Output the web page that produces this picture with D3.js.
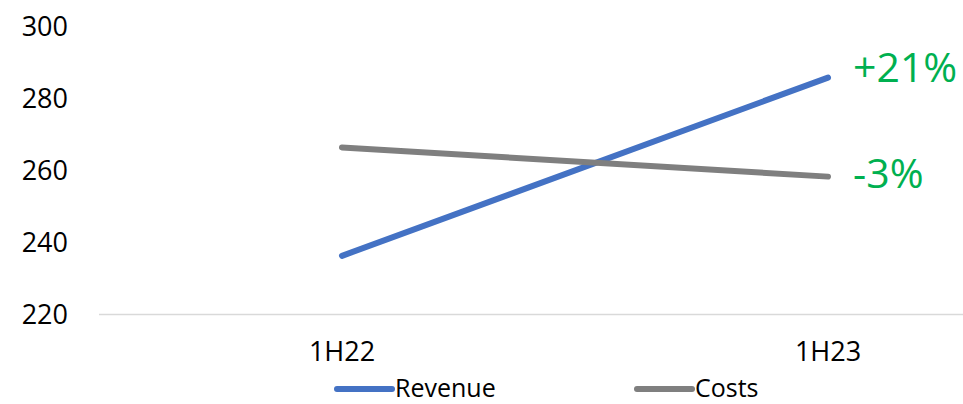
<!DOCTYPE html>
<html>
<head>
<meta charset="utf-8">
<script src="https://cdn.jsdelivr.net/npm/d3@7"></script>
<style>
  body { margin: 0; background: #fff; }
  svg { display: block; font-family: "Open Sans", "Noto Sans", sans-serif; }
</style>
</head>
<body>
<svg width="963" height="404"></svg>
<script>
// data
var periods = ["1H22", "1H23"];
var revenue = [236.3, 285.8];
var costs = [266.4, 258.3];
var yTicks = [220, 240, 260, 280, 300];
var changeLabels = ["+21%", "-3%"];
var seriesNames = ["Revenue", "Costs"];

function main(){
    var svg = d3.select("svg"),
        width = +svg.attr("width");

    // plot area runs past the right edge, as in the reference crop
    var xScale = d3.scaleBand().domain(periods).range([99, 1071]).padding(0),
        yScale = d3.scaleLinear().domain([220, 300]).range([314.5, 26.5]);

    var colors = ["#4472C4", "#7F7F7F"];
    var series = [revenue, costs];

    // y axis labels
    var gy = svg.append("g").attr("transform", "translate(99,0)")
        .call(d3.axisLeft(yScale).tickValues(yTicks).tickSize(0).tickPadding(31));
    gy.select(".domain").remove();
    gy.selectAll("text").attr("font-size", 27).attr("fill", "#000").attr("font-family", "Open Sans");

    // x axis
    var gx = svg.append("g").attr("transform", "translate(0,314.5)")
        .call(d3.axisBottom(xScale).tickSize(0).tickPadding(27));
    gx.select(".domain").remove();
    gx.selectAll("text").attr("font-size", 27).attr("fill", "#000").attr("font-family", "Open Sans");
    svg.append("line")
        .attr("x1", 99).attr("x2", width)
        .attr("y1", 314.5).attr("y2", 314.5)
        .attr("stroke", "#D9D9D9").attr("stroke-width", 1.5);

    var line = d3.line()
        .x(function(d, i){ return xScale(periods[i]) + xScale.bandwidth() / 2; })
        .y(function(d){ return yScale(d); });

    series.forEach(function(s, k){
        svg.append("path").datum(s)
            .attr("d", line)
            .attr("fill", "none")
            .attr("stroke", colors[k])
            .attr("stroke-width", 6)
            .attr("stroke-linecap", "round");
    });

    // change annotations next to the last point
    var lastX = xScale(periods[1]) + xScale.bandwidth() / 2;
    var offsets = [4, 11];
    series.forEach(function(s, k){
        svg.append("text")
            .attr("x", lastX + 25)
            .attr("y", yScale(s[1]) + offsets[k])
            .attr("font-size", 41)
            .attr("fill", "#00B050")
            .attr("font-family", "Open Sans")
            .text(changeLabels[k]);
    });

    // legend
    var legendX = [337, 637];
    seriesNames.forEach(function(name, k){
        var g = svg.append("g").attr("transform", "translate(" + legendX[k] + ",389)");
        g.append("line").attr("x1", 0).attr("x2", 55).attr("y1", 0).attr("y2", 0)
            .attr("stroke", colors[k]).attr("stroke-width", 6).attr("stroke-linecap", "round");
        g.append("text").attr("x", 58).attr("y", 8)
            .attr("font-size", 25).attr("fill", "#000").attr("font-family", "Open Sans")
            .text(name);
    });
}
main();
</script>
</body>
</html>
